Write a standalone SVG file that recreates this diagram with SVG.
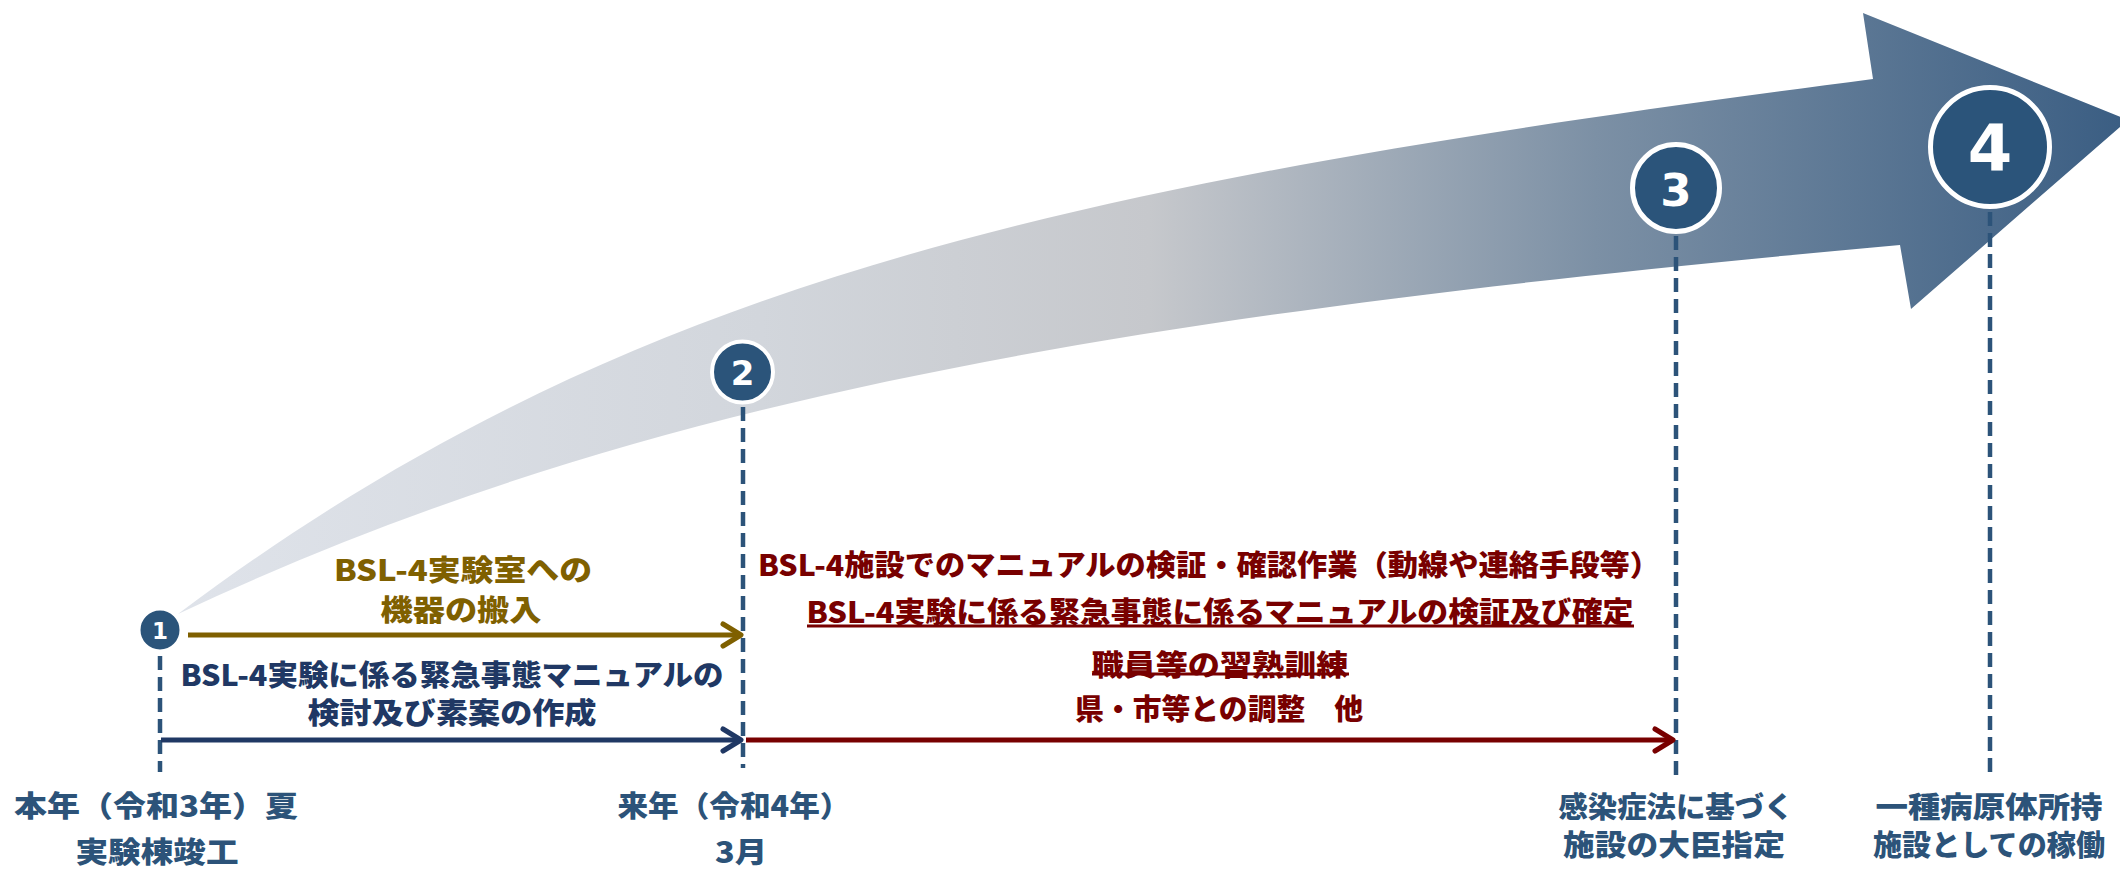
<svg xmlns="http://www.w3.org/2000/svg" width="2120" height="869" viewBox="0 0 2120 869">
<defs>
<linearGradient id="flowGrad" gradientUnits="userSpaceOnUse" x1="178" y1="0" x2="2120" y2="0">
<stop offset="0" stop-color="#dfe3ea"/>
<stop offset="0.3" stop-color="#d2d6dc"/>
<stop offset="0.5" stop-color="#c6c8cc"/>
<stop offset="0.73" stop-color="#7c90a5"/>
<stop offset="1" stop-color="#3b5e83"/>
</linearGradient>
<marker id="mGold" markerUnits="userSpaceOnUse" markerWidth="30" markerHeight="30" viewBox="-24 -15 30 30" refX="0" refY="0" orient="auto">
<path d="M-18,-11 L0,0 L-18,11" class="chev" stroke="#7f6000"/>
</marker>
<marker id="mNavy" markerUnits="userSpaceOnUse" markerWidth="30" markerHeight="30" viewBox="-24 -15 30 30" refX="0" refY="0" orient="auto">
<path d="M-18,-11 L0,0 L-18,11" class="chev" stroke="#203864"/>
</marker>
<marker id="mRed" markerUnits="userSpaceOnUse" markerWidth="30" markerHeight="30" viewBox="-24 -15 30 30" refX="0" refY="0" orient="auto">
<path d="M-18,-11 L0,0 L-18,11" class="chev" stroke="#780000"/>
</marker>
</defs>
<style>
.chev{fill:none;stroke-width:5;stroke-linecap:round;stroke-linejoin:round}
.dash{stroke:#2c5379;stroke-width:4.5;stroke-dasharray:14 7;fill:none}
.arr{stroke-width:5;fill:none}
.node{fill:#2b547a;stroke:#ffffff}
.num{font-family:"DejaVu Sans","Liberation Sans",sans-serif;font-weight:bold;fill:#ffffff;text-anchor:middle;dominant-baseline:central}
.jp{font-family:"Noto Sans CJK JP","Noto Sans CJK SC",sans-serif;font-weight:900;font-size:29px;text-anchor:middle;dominant-baseline:central}
.gold{fill:#7f6000}
.navy{fill:#203864}
.red{fill:#780000}
.lbl{fill:#2c5379}
.ul{stroke:#780000;stroke-width:3}
</style>
<rect x="0" y="0" width="2120" height="869" fill="#ffffff"/>
<g id="flow-arrow">
<path d="M178,614 C628,276 1073,183 1873,79 L1863,13 L2128,120 L1911,309 L1900,245 C1100,317 628,402.5 178,614 Z" fill="url(#flowGrad)"/>
</g>
<g id="connectors">
<line class="dash" x1="160" y1="656" x2="160" y2="772"/>
<line class="dash" x1="743" y1="407" x2="743" y2="768"/>
<line class="dash" x1="1676" y1="236" x2="1676" y2="775"/>
<line class="dash" x1="1990" y1="212" x2="1990" y2="775"/>
<line class="arr" stroke="#7f6000" x1="188" y1="635" x2="741" y2="635" marker-end="url(#mGold)"/>
<line class="arr" stroke="#203864" x1="161" y1="740" x2="741" y2="740" marker-end="url(#mNavy)"/>
<line class="arr" stroke="#780000" x1="746" y1="740" x2="1673" y2="740" marker-end="url(#mRed)"/>
</g>
<g id="milestone-1">
<circle class="node" cx="160" cy="630" r="21.5" stroke-width="4"/>
<text class="num" x="160" y="631" font-size="23">1</text>
<text class="jp lbl" x="156" y="804" textLength="284" lengthAdjust="spacingAndGlyphs">本年（令和3年）夏</text>
<text class="jp lbl" x="157" y="850" textLength="163" lengthAdjust="spacingAndGlyphs">実験棟竣工</text>
</g>
<g id="milestone-2">
<circle class="node" cx="742.5" cy="372" r="30.5" stroke-width="4"/>
<text class="num" x="742.5" y="373" font-size="34">2</text>
<text class="jp lbl" x="734" y="804" textLength="233" lengthAdjust="spacingAndGlyphs">来年（令和4年）</text>
<text class="jp lbl" x="741" y="850" textLength="52" lengthAdjust="spacingAndGlyphs">3月</text>
</g>
<g id="milestone-3">
<circle class="node" cx="1676" cy="188" r="43.5" stroke-width="5"/>
<text class="num" x="1676" y="190" font-size="45">3</text>
<text class="jp lbl" x="1676" y="805" textLength="235" lengthAdjust="spacingAndGlyphs">感染症法に基づく</text>
<text class="jp lbl" x="1674" y="843" textLength="222" lengthAdjust="spacingAndGlyphs">施設の大臣指定</text>
</g>
<g id="milestone-4">
<circle class="node" cx="1990" cy="147" r="59.5" stroke-width="5"/>
<text class="num" x="1990" y="149" font-size="64">4</text>
<text class="jp lbl" x="1989" y="805" textLength="227" lengthAdjust="spacingAndGlyphs">一種病原体所持</text>
<text class="jp lbl" x="1989" y="843" textLength="232" lengthAdjust="spacingAndGlyphs">施設としての稼働</text>
</g>
<g id="task-equipment">
<text class="jp gold" x="463" y="568" textLength="258" lengthAdjust="spacingAndGlyphs">BSL-4実験室への</text>
<text class="jp gold" x="461" y="608" textLength="161" lengthAdjust="spacingAndGlyphs">機器の搬入</text>
</g>
<g id="task-manual-draft">
<text class="jp navy" x="452" y="673" textLength="543" lengthAdjust="spacingAndGlyphs">BSL-4実験に係る緊急事態マニュアルの</text>
<text class="jp navy" x="452" y="711" textLength="289" lengthAdjust="spacingAndGlyphs">検討及び素案の作成</text>
</g>
<g id="task-verification">
<text class="jp red" x="1209" y="563" textLength="902" lengthAdjust="spacingAndGlyphs">BSL-4施設でのマニュアルの検証・確認作業（動線や連絡手段等）</text>
<text class="jp red" x="1220" y="610" textLength="827" lengthAdjust="spacingAndGlyphs">BSL-4実験に係る緊急事態に係るマニュアルの検証及び確定</text>
<line class="ul" x1="807" y1="626" x2="1634" y2="626"/>
<text class="jp red" x="1220" y="663" textLength="257" lengthAdjust="spacingAndGlyphs">職員等の習熟訓練</text>
<line class="ul" x1="1092" y1="674" x2="1349" y2="674"/>
<text class="jp red" x="1219" y="707" textLength="288" lengthAdjust="spacingAndGlyphs">県・市等との調整　他</text>
</g>
</svg>
